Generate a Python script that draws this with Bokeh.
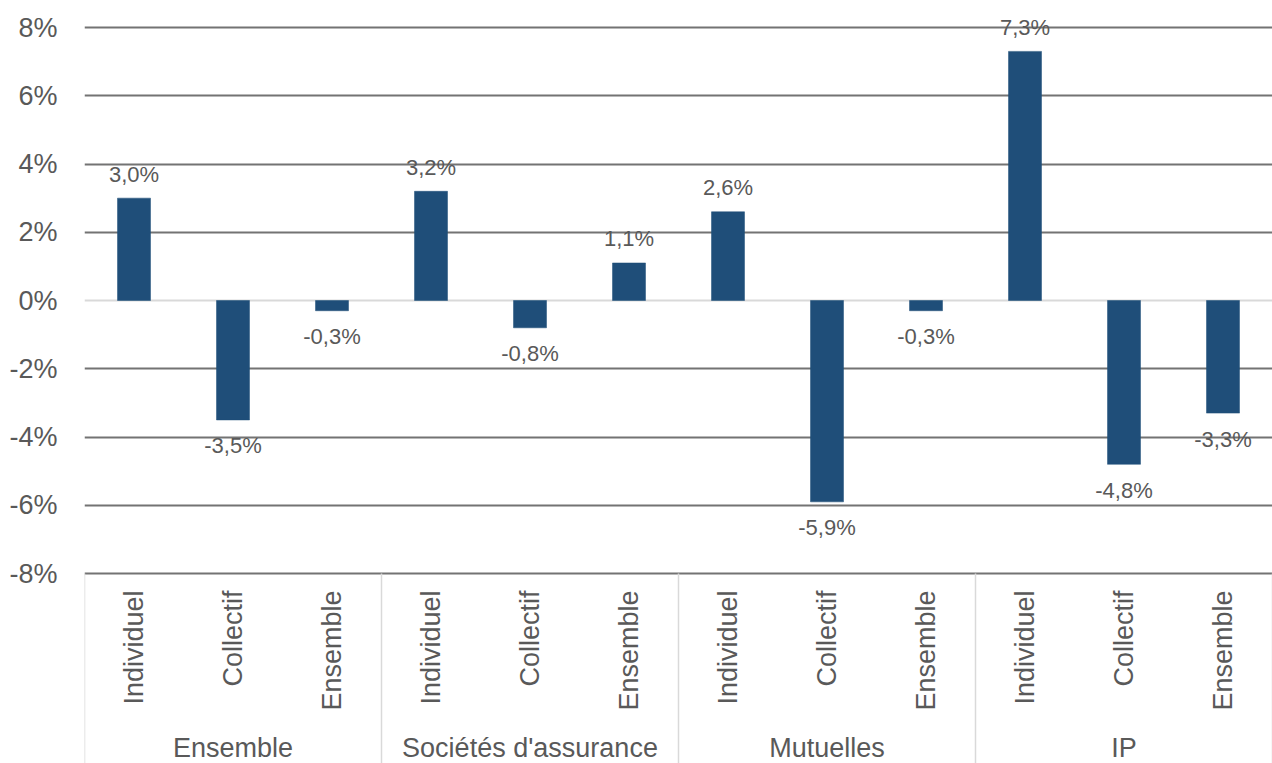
import numpy as np
from bokeh.plotting import figure
from bokeh.models import Range1d, FixedTicker, PrintfTickFormatter, Span, ColumnDataSource
from bokeh.core.properties import value
from bokeh.embed import file_html
from bokeh.resources import INLINE

# Évolution par type d'organisme et type de contrat (en %)
groups = ["Ensemble", "Sociétés d'assurance", "Mutuelles", "IP"]
segments = ["Individuel", "Collectif", "Ensemble"]
evolution = [3.0, -3.5, -0.3, 3.2, -0.8, 1.1, 2.6, -5.9, -0.3, 7.3, -4.8, -3.3]
y_ticks = [-8, -6, -4, -2, 0, 2, 4, 6, 8]

FONT = "Liberation Sans"
TEXT_COLOR = "#595959"
BAR_COLOR = "#1F4E79"
GRID_COLOR = "#737373"
LIGHT_LINE = "#d9d9d9"

n_seg = len(segments)
n_bars = len(groups) * n_seg

# vertical scale: 16 points of % over 546 px, plus room for the category labels below
px_per_unit = 546 / 16.0
y_top = 8 + 17 / px_per_unit
y_bottom = -8 - 190 / px_per_unit

p = figure(
    width=1272, height=763,
    x_range=Range1d(0, n_bars), y_range=Range1d(y_bottom, y_top),
    x_axis_location=None,
    min_border_left=84, min_border_right=0, min_border_top=10, min_border_bottom=0,
    outline_line_color=None, toolbar_location=None, output_backend="svg",
    background_fill_color="white", border_fill_color="white",
)

# y axis
p.yaxis.ticker = FixedTicker(ticks=y_ticks)
p.yaxis.formatter = PrintfTickFormatter(format="%d%%")
p.yaxis.axis_line_color = None
p.yaxis.major_tick_line_color = None
p.yaxis.minor_tick_line_color = None
p.yaxis.major_label_standoff = 21
p.yaxis.major_label_text_font = FONT
p.yaxis.major_label_text_font_size = "27px"
p.yaxis.major_label_text_color = TEXT_COLOR

# grid
p.xgrid.grid_line_color = None
p.ygrid.ticker = FixedTicker(ticks=[t for t in y_ticks if t != 0])
p.ygrid.grid_line_color = GRID_COLOR
p.ygrid.grid_line_width = 2
p.add_layout(Span(location=0, dimension="width", line_color=LIGHT_LINE,
                  line_width=2, level="underlay"))

# bars
xs = [i + 0.5 for i in range(n_bars)]
labels = [f"{v:.1f}".replace(".", ",") + "%" for v in evolution]
src = ColumnDataSource(dict(x=xs, top=evolution, label=labels,
                            yoff=[-24 if v >= 0 else 26 for v in evolution]))
p.vbar(x="x", top="top", bottom=0, width=1 / 3, source=src,
       fill_color=BAR_COLOR, line_color=BAR_COLOR, line_width=0.5)

# value labels
p.text(x="x", y="top", text="label", y_offset="yoff", source=src,
       text_align="center", text_baseline="middle",
       text_font=value(FONT), text_font_size="22px", text_color=TEXT_COLOR)

# group separators below the axis
sep_x = [g * n_seg for g in range(len(groups) + 1)]
p.segment(x0=sep_x, y0=[-8] * len(sep_x), x1=sep_x, y1=[y_bottom] * len(sep_x),
          line_color=LIGHT_LINE, line_width=1.5)

# segment labels (rotated)
seg_y = -8 - 17 / px_per_unit
p.text(x=xs, y=[seg_y] * n_bars, text=segments * len(groups), angle=np.pi / 2,
       text_align="right", text_baseline="middle",
       text_font=value(FONT), text_font_size="27px", text_color=TEXT_COLOR)

# group labels
grp_x = [g * n_seg + n_seg / 2 for g in range(len(groups))]
grp_y = -8 - 174 / px_per_unit
p.text(x=grp_x, y=[grp_y] * len(groups), text=groups,
       text_align="center", text_baseline="middle",
       text_font=value(FONT), text_font_size="27px", text_color=TEXT_COLOR)

open("out.html", "w").write(file_html(p, INLINE))
